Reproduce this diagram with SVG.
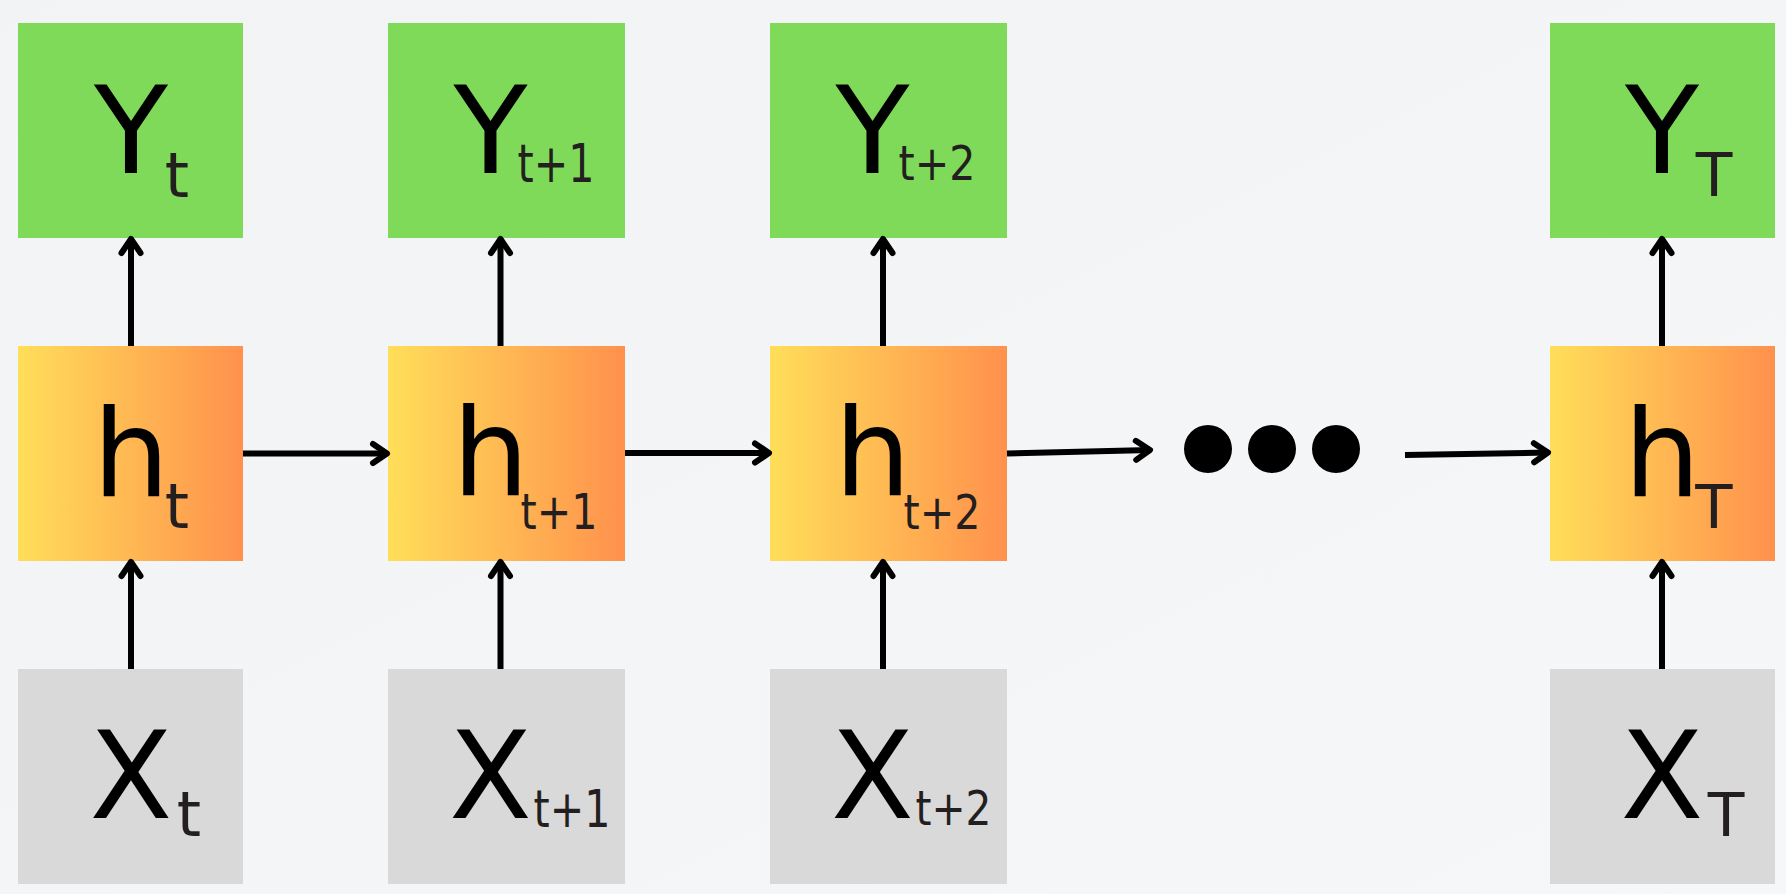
<svg xmlns="http://www.w3.org/2000/svg" width="1786" height="894" viewBox="0 0 1786 894">
<defs>
<linearGradient id="bg" x1="0" y1="0" x2="1" y2="1">
<stop offset="0" stop-color="#f2f3f5"/>
<stop offset="0.5" stop-color="#f4f5f7"/>
<stop offset="1" stop-color="#f6f7f8"/>
</linearGradient>
<linearGradient id="hg" x1="0" y1="0" x2="1" y2="0">
<stop offset="0" stop-color="#ffde59"/>
<stop offset="1" stop-color="#ff914d"/>
</linearGradient>
<marker id="ah" markerUnits="userSpaceOnUse" viewBox="-20 -20 40 40" markerWidth="40" markerHeight="40" refX="0" refY="0" orient="auto" overflow="visible">
<path d="M-14,-9.5 L0,0 L-14,9.5" fill="none" stroke="#000" stroke-width="6" stroke-linecap="round" stroke-linejoin="round"/>
</marker>
</defs>
<style>
.y{fill:#7fda5a}
.x{fill:#d9d9d9}
.h{fill:url(#hg)}
.big{font-family:"DejaVu Sans",sans-serif;font-size:121px;fill:#000;text-anchor:middle}
.sub{font-family:"DejaVu Sans",sans-serif;fill:#231f20;text-anchor:middle}
.c{fill:none;stroke:#000;stroke-width:6;marker-end:url(#ah)}
</style>
<rect width="1786" height="894" fill="url(#bg)"/>

<g id="Yt"><rect class="y" x="18" y="23" width="225" height="215"/><text class="big" x="131" y="173">Y</text><text class="sub" x="177" y="197" font-size="62">t</text></g>
<g id="Yt1"><rect class="y" x="388" y="23" width="237" height="215"/><text class="big" x="490.5" y="173">Y</text><text class="sub" x="556" y="182" font-size="53" textLength="77" lengthAdjust="spacingAndGlyphs">t+1</text></g>
<g id="Yt2"><rect class="y" x="770" y="23" width="237" height="215"/><text class="big" x="872.5" y="173">Y</text><text class="sub" x="937" y="180" font-size="48" textLength="77" lengthAdjust="spacingAndGlyphs">t+2</text></g>
<g id="YT"><rect class="y" x="1550" y="23" width="225" height="215"/><text class="big" x="1662" y="173">Y</text><text class="sub" x="1714" y="196" font-size="60">T</text></g>

<g id="ht"><rect class="h" x="18" y="346" width="225" height="215"/><text class="big" x="131" y="496" font-size="118">h</text><text class="sub" x="177" y="528" font-size="62">t</text></g>
<g id="ht1"><rect class="h" x="388" y="346" width="237" height="215"/><text class="big" x="490.5" y="495" font-size="118">h</text><text class="sub" x="559" y="529" font-size="50" textLength="77" lengthAdjust="spacingAndGlyphs">t+1</text></g>
<g id="ht2"><rect class="h" x="770" y="346" width="237" height="215"/><text class="big" x="872.5" y="495" font-size="118">h</text><text class="sub" x="942" y="529" font-size="48" textLength="77" lengthAdjust="spacingAndGlyphs">t+2</text></g>
<g id="hT"><rect class="h" x="1550" y="346" width="225" height="215"/><text class="big" x="1662" y="496" font-size="118">h</text><text class="sub" x="1714" y="528" font-size="61">T</text></g>

<g id="Xt"><rect class="x" x="18" y="669" width="225" height="215"/><text class="big" x="131" y="818">X</text><text class="sub" x="189" y="836" font-size="62">t</text></g>
<g id="Xt1"><rect class="x" x="388" y="669" width="237" height="215"/><text class="big" x="490.5" y="818">X</text><text class="sub" x="572" y="827" font-size="51" textLength="77" lengthAdjust="spacingAndGlyphs">t+1</text></g>
<g id="Xt2"><rect class="x" x="770" y="669" width="237" height="215"/><text class="big" x="872.5" y="818">X</text><text class="sub" x="953.5" y="825" font-size="48" textLength="76" lengthAdjust="spacingAndGlyphs">t+2</text></g>
<g id="XT"><rect class="x" x="1550" y="669" width="225" height="215"/><text class="big" x="1662" y="818">X</text><text class="sub" x="1726" y="836" font-size="60">T</text></g>

<g id="dots"><circle cx="1208" cy="449" r="24"/><circle cx="1272" cy="449" r="24"/><circle cx="1336" cy="449" r="24"/></g>

<g id="connectors">
<line class="c" x1="131" y1="346" x2="131" y2="239"/>
<line class="c" x1="500.5" y1="346" x2="500.5" y2="239"/>
<line class="c" x1="883" y1="346" x2="883" y2="239"/>
<line class="c" x1="1662" y1="346" x2="1662" y2="239"/>
<line class="c" x1="131" y1="669" x2="131" y2="562"/>
<line class="c" x1="500.5" y1="669" x2="500.5" y2="562"/>
<line class="c" x1="883" y1="669" x2="883" y2="562"/>
<line class="c" x1="1662" y1="669" x2="1662" y2="562"/>
<line class="c" x1="243" y1="453.5" x2="387" y2="453.5"/>
<line class="c" x1="625" y1="453" x2="769" y2="453"/>
<line class="c" x1="1007" y1="453.5" x2="1150" y2="450"/>
<line class="c" x1="1405" y1="455" x2="1548" y2="452.5"/>
</g>
</svg>
